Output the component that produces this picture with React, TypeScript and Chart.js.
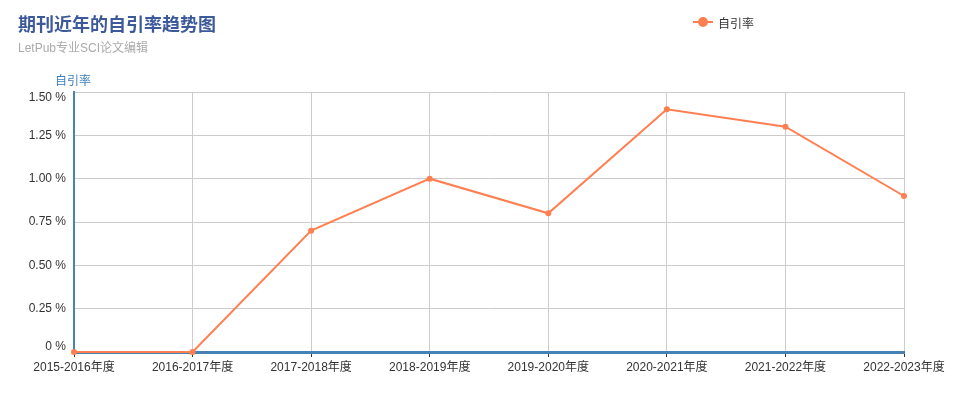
import React, { useEffect, useRef } from "react";
import { Chart, registerables } from "chart.js";

Chart.register(...registerables);

const categories = [
  "2015-2016年度",
  "2016-2017年度",
  "2017-2018年度",
  "2018-2019年度",
  "2019-2020年度",
  "2020-2021年度",
  "2021-2022年度",
  "2022-2023年度",
];
const selfCitationRate = [0, 0, 0.7, 1.0, 0.8, 1.4, 1.3, 0.9];
const seriesName = "自引率";
const titleText = "期刊近年的自引率趋势图";
const subtitleText = "LetPub专业SCI论文编辑";
const yMin = 0;
const yMax = 1.5;
const yStep = 0.25;

const FONT = '"Liberation Sans", Arial, "Noto Sans CJK SC", sans-serif';
const LINE_COLOR = "#ff7f50";
const AXIS_COLOR = "#4682b4";

const fmt = (n: number) => (n === 0 ? "0 %" : n.toFixed(2) + " %");

// Draws y tick labels, keeping the top and bottom labels inside the grid like the reference.
const yLabelPlugin = {
  id: "yLabels",
  afterDraw(chart: any) {
    const scale = chart.scales.y;
    const ctx = chart.ctx;
    ctx.save();
    ctx.font = `12px ${FONT}`;
    ctx.fillStyle = "#333333";
    ctx.textAlign = "right";
    const ticks = scale.ticks;
    ticks.forEach((t: any, i: number) => {
      const y = scale.getPixelForValue(t.value);
      let baseline: CanvasTextBaseline = "middle";
      let yy = y;
      if (i === 0) {
        baseline = "bottom";
        yy = y + 1;
      } else if (i === ticks.length - 1) {
        baseline = "top";
        yy = y;
      }
      ctx.textBaseline = baseline;
      ctx.fillText(fmt(t.value), scale.right - 8, yy);
    });
    ctx.restore();
  },
};

export default function App() {
  const ref = useRef<HTMLCanvasElement | null>(null);

  useEffect(() => {
    document.body.style.margin = "0";
    const canvas = ref.current;
    if (!canvas) return;
    const chart = new Chart(canvas, {
      type: "line",
      data: {
        labels: categories,
        datasets: [
          {
            label: seriesName,
            data: selfCitationRate,
            borderColor: LINE_COLOR,
            backgroundColor: LINE_COLOR,
            borderWidth: 2,
            pointRadius: 3,
            pointHoverRadius: 3,
            pointBorderWidth: 0,
            pointBackgroundColor: LINE_COLOR,
            pointBorderColor: LINE_COLOR,
            tension: 0,
            clip: false,
          },
        ],
      },
      options: {
        responsive: false,
        animation: false,
        devicePixelRatio: 1,
        layout: { padding: { top: 92, right: 58, left: 0, bottom: 0 } },
        plugins: {
          legend: { display: false },
          title: { display: false },
          tooltip: { enabled: false },
        },
        scales: {
          x: {
            type: "category",
            offset: false,
            grid: {
              color: "#cccccc",
              lineWidth: 1,
              drawTicks: true,
              tickLength: 5,
              tickColor: "#333333",
            },
            border: { color: AXIS_COLOR, width: 3 },
            ticks: {
              color: "#333333",
              font: { family: FONT, size: 12 },
              padding: 3,
              maxRotation: 0,
              autoSkip: false,
            },
            afterFit: (scale: any) => {
              scale.height = 52;
            },
          },
          y: {
            min: yMin,
            max: yMax,
            grid: { color: "#cccccc", lineWidth: 1, drawTicks: false },
            border: { color: AXIS_COLOR, width: 2 },
            ticks: {
              display: false,
              stepSize: yStep,
              callback: (v: any) => fmt(Number(v)),
            },
            afterFit: (scale: any) => {
              scale.width = 74;
            },
          },
        },
      },
      plugins: [yLabelPlugin],
    });
    return () => chart.destroy();
  }, []);

  return (
    <div style={{ position: "relative", width: 962, height: 404, fontFamily: FONT }}>
      <canvas ref={ref} width={962} height={404} style={{ position: "absolute", left: 0, top: 0, width: 962, height: 404 }} />
      <div style={{ position: "absolute", left: 18, top: 13, fontSize: 18, fontWeight: "bold", color: "#3c5a99", lineHeight: "24px", whiteSpace: "nowrap" }}>
        {titleText}
      </div>
      <div style={{ position: "absolute", left: 18, top: 40, fontSize: 12, color: "#aaaaaa", lineHeight: "16px", whiteSpace: "nowrap" }}>
        {subtitleText}
      </div>
      <div style={{ position: "absolute", left: 55, top: 73, fontSize: 12, color: "#3d7fb8", lineHeight: "16px", whiteSpace: "nowrap" }}>
        {seriesName}
      </div>
      <div style={{ position: "absolute", left: 692, top: 14, height: 16, display: "flex", alignItems: "center", whiteSpace: "nowrap" }}>
        <div style={{ position: "relative", width: 22, height: 16 }}>
          <div style={{ position: "absolute", left: 1, top: 7, width: 20, height: 2, background: LINE_COLOR }} />
          <div style={{ position: "absolute", left: 6, top: 3, width: 10, height: 10, borderRadius: 5, background: LINE_COLOR }} />
        </div>
        <span style={{ marginLeft: 4, fontSize: 12, color: "#333333" }}>{seriesName}</span>
      </div>
    </div>
  );
}
